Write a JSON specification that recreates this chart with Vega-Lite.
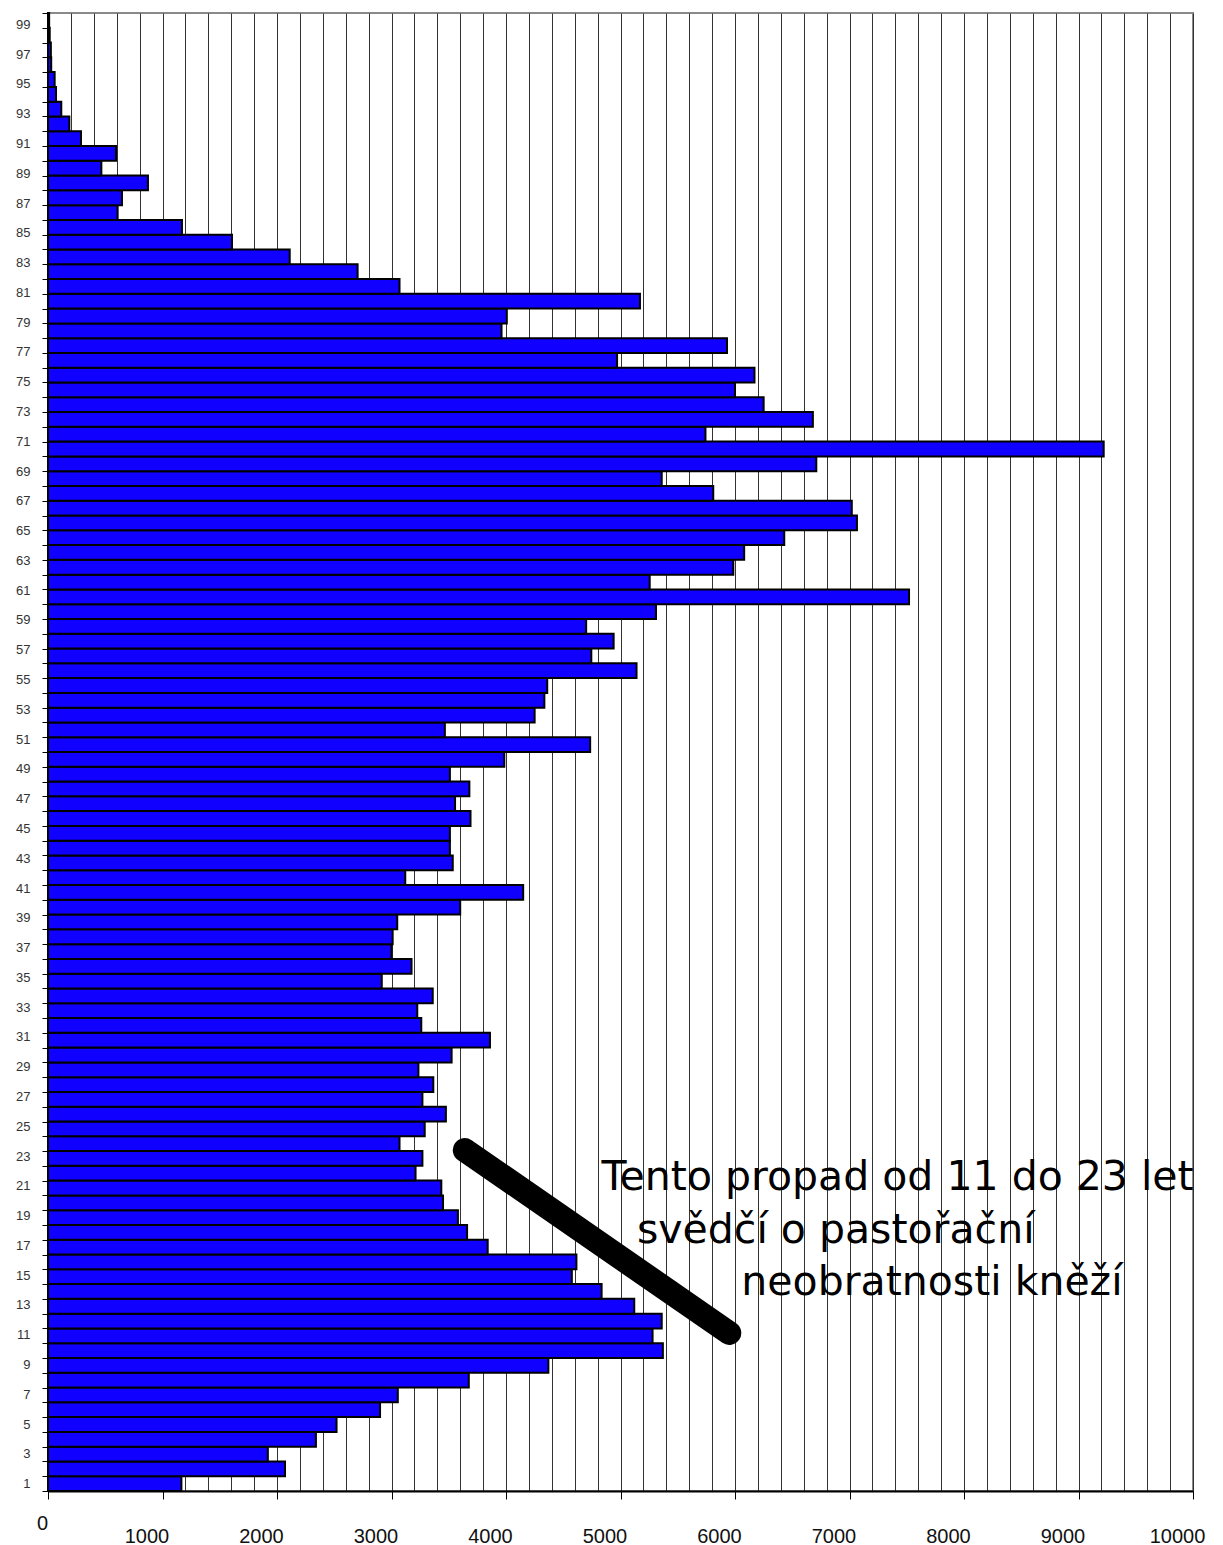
{
  "$schema": "https://vega.github.io/schema/vega-lite/v6.json",
  "width": 1145,
  "height": 1478,
  "autosize": {"type": "none"},
  "padding": {"left": 48, "top": 13, "right": 30, "bottom": 54},
  "background": "white",
  "config": {
    "view": {"stroke": "#8a8a8a", "strokeWidth": 2},
    "axis": {"labelFont": "Liberation Sans", "domainColor": "black", "domainWidth": 2}
  },
  "layer": [
    {
      "data": {
        "values": [
          {"age": 1, "count": 1165}, {"age": 2, "count": 2070}, {"age": 3, "count": 1920}, {"age": 4, "count": 2340},
          {"age": 5, "count": 2520}, {"age": 6, "count": 2900}, {"age": 7, "count": 3055}, {"age": 8, "count": 3675},
          {"age": 9, "count": 4370}, {"age": 10, "count": 5370}, {"age": 11, "count": 5280}, {"age": 12, "count": 5360},
          {"age": 13, "count": 5120}, {"age": 14, "count": 4835}, {"age": 15, "count": 4575}, {"age": 16, "count": 4615},
          {"age": 17, "count": 3840}, {"age": 18, "count": 3660}, {"age": 19, "count": 3580}, {"age": 20, "count": 3450},
          {"age": 21, "count": 3435}, {"age": 22, "count": 3210}, {"age": 23, "count": 3270}, {"age": 24, "count": 3070},
          {"age": 25, "count": 3290}, {"age": 26, "count": 3475}, {"age": 27, "count": 3270}, {"age": 28, "count": 3365},
          {"age": 29, "count": 3235}, {"age": 30, "count": 3525}, {"age": 31, "count": 3860}, {"age": 32, "count": 3260},
          {"age": 33, "count": 3225}, {"age": 34, "count": 3360}, {"age": 35, "count": 2915}, {"age": 36, "count": 3175},
          {"age": 37, "count": 3000}, {"age": 38, "count": 3010}, {"age": 39, "count": 3050}, {"age": 40, "count": 3600},
          {"age": 41, "count": 4150}, {"age": 42, "count": 3120}, {"age": 43, "count": 3535}, {"age": 44, "count": 3510},
          {"age": 45, "count": 3510}, {"age": 46, "count": 3690}, {"age": 47, "count": 3555}, {"age": 48, "count": 3680},
          {"age": 49, "count": 3510}, {"age": 50, "count": 3985}, {"age": 51, "count": 4735}, {"age": 52, "count": 3466},
          {"age": 53, "count": 4250}, {"age": 54, "count": 4335}, {"age": 55, "count": 4360}, {"age": 56, "count": 5140},
          {"age": 57, "count": 4745}, {"age": 58, "count": 4940}, {"age": 59, "count": 4700}, {"age": 60, "count": 5310},
          {"age": 61, "count": 7520}, {"age": 62, "count": 5255}, {"age": 63, "count": 5985}, {"age": 64, "count": 6080},
          {"age": 65, "count": 6430}, {"age": 66, "count": 7065}, {"age": 67, "count": 7020}, {"age": 68, "count": 5810},
          {"age": 69, "count": 5360}, {"age": 70, "count": 6710}, {"age": 71, "count": 9220}, {"age": 72, "count": 5742},
          {"age": 73, "count": 6680}, {"age": 74, "count": 6250}, {"age": 75, "count": 6000}, {"age": 76, "count": 6170},
          {"age": 77, "count": 4970}, {"age": 78, "count": 5930}, {"age": 79, "count": 3961}, {"age": 80, "count": 4007},
          {"age": 81, "count": 5170}, {"age": 82, "count": 3070}, {"age": 83, "count": 2704}, {"age": 84, "count": 2111},
          {"age": 85, "count": 1607}, {"age": 86, "count": 1170}, {"age": 87, "count": 608}, {"age": 88, "count": 646},
          {"age": 89, "count": 873}, {"age": 90, "count": 466}, {"age": 91, "count": 594}, {"age": 92, "count": 288},
          {"age": 93, "count": 186}, {"age": 94, "count": 116}, {"age": 95, "count": 70}, {"age": 96, "count": 58},
          {"age": 97, "count": 28}, {"age": 98, "count": 25}, {"age": 99, "count": 15}, {"age": 100, "count": 10}
        ]
      },
      "mark": {"type": "bar", "fill": "#1000ff", "stroke": "black", "strokeWidth": 2},
      "encoding": {
        "y": {
          "field": "age",
          "type": "ordinal",
          "sort": "descending",
          "scale": {"paddingInner": 0, "paddingOuter": 0},
          "axis": {
            "title": null,
            "labelExpr": "datum.value % 2 == 1 ? datum.label : ''",
            "labelFontSize": 13,
            "labelColor": "#333333",
            "labelPadding": 12,
            "labelOffset": {"expr": "-(datum.value - 1) * 0.11"},
            "tickSize": 6,
            "tickColor": "black",
            "tickBand": "extent",
            "grid": false
          }
        },
        "x": {
          "field": "count",
          "type": "quantitative",
          "scale": {"domain": [0, 10000], "nice": false, "zero": true},
          "axis": {
            "title": null,
            "tickCount": 100,
            "values": [0,200,400,600,800,1000,1200,1400,1600,1800,2000,2200,2400,2600,2800,3000,3200,3400,3600,3800,4000,4200,4400,4600,4800,5000,5200,5400,5600,5800,6000,6200,6400,6600,6800,7000,7200,7400,7600,7800,8000,8200,8400,8600,8800,9000,9200,9400,9600,9800,10000],
            "labelExpr": "datum.value % 1000 == 0 ? datum.label : ''",
            "format": "d",
            "labelFontSize": 20,
            "labelColor": "#111111",
            "labelFlush": false,
            "labelOverlap": false,
            "labelPadding": {"condition": {"test": "datum.value == 0", "value": 14}, "value": 27},
            "labelOffset": {"condition": {"test": "datum.value == 0", "value": -6}, "value": -16},
            "tickSize": 8,
            "tickColor": "black",
            "tickOpacity": {"condition": {"test": "datum.value % 1000 != 0", "value": 0}, "value": 1},
            "grid": true,
            "gridColor": "#333333",
            "gridWidth": 1,
            "gridOpacity": 1
          }
        }
      }
    },
    {
      "data": {"values": [{"x": 3640, "y": 23.07}, {"x": 5950, "y": 10.69}]},
      "mark": {"type": "line", "stroke": "black", "strokeWidth": 24, "strokeCap": "round"},
      "encoding": {
        "x": {"field": "x", "type": "quantitative", "scale": {"domain": [0, 10000], "nice": false}},
        "y": {"field": "y", "type": "quantitative", "scale": {"domain": [0, 100], "nice": false, "zero": true}, "axis": null}
      }
    },
    {
      "data": {
        "values": [
          {"t": "Tento propad od 11 do 23 let", "x": 7420, "y": 20.37},
          {"t": "svědčí o pastořační", "x": 6880, "y": 16.8},
          {"t": "neobratnosti kněží", "x": 7720, "y": 13.25}
        ]
      },
      "mark": {"type": "text", "font": "DejaVu Sans", "fontSize": 41, "align": "center", "baseline": "alphabetic", "color": "black"},
      "encoding": {
        "x": {"field": "x", "type": "quantitative", "scale": {"domain": [0, 10000], "nice": false}},
        "y": {"field": "y", "type": "quantitative", "scale": {"domain": [0, 100], "nice": false, "zero": true}, "axis": null},
        "text": {"field": "t"}
      }
    }
  ],
  "resolve": {"scale": {"y": "independent"}}
}
